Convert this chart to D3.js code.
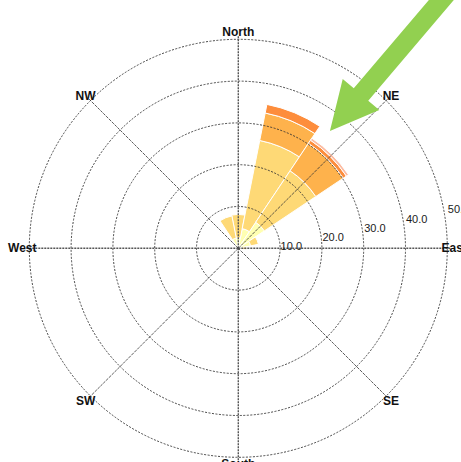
<!DOCTYPE html>
<html>
<head>
<meta charset="utf-8">
<script src="https://cdn.jsdelivr.net/npm/d3@7"></script>
<style>
  html, body { margin: 0; padding: 0; background: #fff; }
  svg { display: block; }
</style>
</head>
<body>
<svg id="chart" width="461" height="462"></svg>
<script>
// ---- data ----
const directions = ["N","NNE","NE","ENE","E","ESE","SE","SSE","S","SSW","SW","WSW","W","WNW","NW","NNW"];
const speedClasses = ["c0","c1","c2","c3","c4"];
const classColors = ["#ffffb2","#fed976","#feb24c","#fd8d3c","#fcbba1"];
const c0 = [2.5, 4.8, 7.5, 3.0, 1.0, 0, 0, 0, 0, 0, 0, 0, 0, 0, 0, 2.5];
const c1 = [5.6, 21.5, 14.8, 1.9, 1.0, 0, 0, 0, 0, 0, 0, 0, 0, 0, 0, 5.4];
const c2 = [0, 6.7, 7.9, 0, 0, 0, 0, 0, 0, 0, 0, 0, 0, 0, 0, 0];
const c3 = [0, 2.1, 0.9, 0, 0, 0, 0, 0, 0, 0, 0, 0, 0, 0, 0, 0];
const c4 = [0, 0, 0.6, 0, 0, 0, 0, 0, 0, 0, 0, 0, 0, 0, 0, 0];
const radialTicks = [10, 20, 30, 40, 50];
const tickLabels = ["10.0", "20.0", "30.0", "40.0", "50.0"];
const compassLabels = ["North","NE","East","SE","South","SW","West","NW"];
const compassAngles = [0, 45, 90, 135, 180, 225, 270, 315];

// ---- layout ----
const svg = d3.select("#chart");
const cx = 238.3, cy = 248.3;
const rScale = d3.scaleLinear().domain([0, 50]).range([0, 209]);
const step = 2 * Math.PI / directions.length;
const aScale = d3.scaleBand().domain(directions).range([-step / 2, 2 * Math.PI - step / 2]).padding(0);

const rows = directions.map((d, i) => ({dir: d, c0: c0[i], c1: c1[i], c2: c2[i], c3: c3[i], c4: c4[i]}));
const stacked = d3.stack().keys(speedClasses)(rows);

const g = svg.append("g").attr("transform", `translate(${cx},${cy})`);

// bars
const arc = d3.arc()
  .innerRadius(d => rScale(d[0]))
  .outerRadius(d => rScale(d[1]))
  .startAngle(d => aScale(d.data.dir))
  .endAngle(d => aScale(d.data.dir) + aScale.bandwidth());

stacked.forEach((layer, li) => {
  g.append("g").selectAll("path")
    .data(layer.filter(d => d[1] - d[0] > 0))
    .join("path")
    .attr("d", arc)
    .attr("fill", classColors[li])
    .attr("stroke", "#fff")
    .attr("stroke-width", 1);
});

// grid circles
g.append("g").selectAll("circle")
  .data(radialTicks)
  .join("circle")
  .attr("r", d => rScale(d))
  .attr("fill", "none")
  .attr("stroke", "#333")
  .attr("stroke-width", 0.9)
  .attr("stroke-dasharray", "2,1.5");

// spokes
const spokeR = rScale(50) + 3;
g.append("g").selectAll("line")
  .data(compassAngles)
  .join("line")
  .attr("x1", 0).attr("y1", 0)
  .attr("x2", d => spokeR * Math.sin(d * Math.PI / 180))
  .attr("y2", d => -spokeR * Math.cos(d * Math.PI / 180))
  .attr("stroke", d => d % 90 === 0 ? "#555" : "#333")
  .attr("stroke-width", d => d % 90 === 0 ? 1.4 : 0.8)
  .attr("stroke-dasharray", d => d % 90 === 0 ? "2,1" : "3,1");

// radial tick labels
g.append("g").selectAll("text")
  .data(radialTicks)
  .join("text")
  .attr("x", d => rScale(d) + 0.5)
  .attr("y", d => 11 - 0.22 * rScale(d))
  .attr("font-family", "Liberation Sans, Arial, sans-serif")
  .attr("font-size", 11)
  .attr("fill", "#1a1a1a")
  .text((d, i) => tickLabels[i]);

// compass labels
const labR = rScale(50) + 7;
g.append("g").selectAll("text")
  .data(compassLabels)
  .join("text")
  .attr("x", (d, i) => labR * Math.sin(compassAngles[i] * Math.PI / 180))
  .attr("y", (d, i) => -labR * Math.cos(compassAngles[i] * Math.PI / 180))
  .attr("text-anchor", "middle")
  .attr("dominant-baseline", "central")
  .attr("font-family", "Liberation Sans, Arial, sans-serif")
  .attr("font-weight", "bold")
  .attr("font-size", 12)
  .attr("fill", "#111")
  .text(d => d);

// annotation arrow (pointing at the NE sector)
const tipVal = 35.6, tipAng = 38 * Math.PI / 180;
const tipX = rScale(tipVal) * Math.sin(tipAng), tipY = -rScale(tipVal) * Math.cos(tipAng);
const arrowDir = Math.atan2(0.762, -0.648) * 180 / Math.PI; // direction of travel
const headLen = 48, headHalf = 24, shaftHalf = 9.5, shaftLen = 220;
const arrowPts = [
  [0, 0], [-headLen, -headHalf], [-headLen, -shaftHalf], [-headLen - shaftLen, -shaftHalf],
  [-headLen - shaftLen, shaftHalf], [-headLen, shaftHalf], [-headLen, headHalf]
];
g.append("path")
  .attr("d", d3.line()(arrowPts) + "Z")
  .attr("transform", `translate(${tipX},${tipY}) rotate(${arrowDir})`)
  .attr("fill", "#92d050");
</script>
</body>
</html>
